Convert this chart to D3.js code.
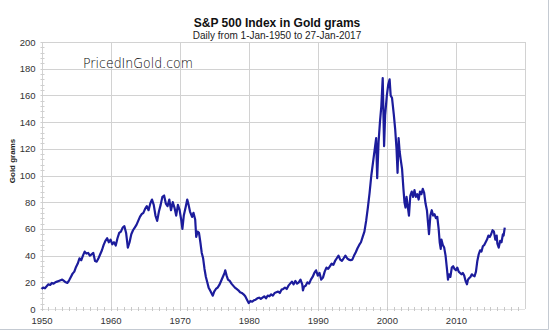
<!DOCTYPE html>
<html>
<head>
<meta charset="utf-8">
<script src="https://cdn.jsdelivr.net/npm/d3@7"></script>
<style>
  html, body { margin: 0; padding: 0; background: #fff; }
  svg { display: block; }
</style>
</head>
<body>
<svg id="chart" width="550" height="336"></svg>
<script>
// ---- data ----
const dates = [
  1950.0,1950.25,1950.5,1950.75,1951.0,1951.25,1951.5,1951.75,1952.0,1952.25,1952.5,1952.75,
  1953.0,1953.25,1953.5,1953.75,1954.0,1954.25,1954.5,1954.75,1955.0,1955.25,1955.5,1955.75,
  1956.0,1956.25,1956.5,1956.75,1957.0,1957.25,1957.5,1957.75,1958.0,1958.25,1958.5,1958.75,
  1959.0,1959.25,1959.5,1959.75,1960.0,1960.25,1960.5,1960.75,1961.0,1961.25,1961.5,1961.75,
  1962.0,1962.25,1962.5,1962.75,1963.0,1963.25,1963.5,1963.75,1964.0,1964.25,1964.5,1964.75,
  1965.0,1965.25,1965.5,1965.75,1966.0,1966.25,1966.5,1966.75,1967.0,1967.25,1967.5,1967.75,
  1968.0,1968.25,1968.5,1968.75,1969.0,1969.25,1969.5,1969.75,1970.0,1970.25,1970.4,1970.6,
  1970.9,1971.1,1971.3,1971.5,1971.8,1972.0,1972.25,1972.4,1972.6,1972.8,1973.0,1973.2,
  1973.4,1973.6,1973.8,1974.0,1974.2,1974.4,1974.6,1974.8,1975.0,1975.25,1975.5,1975.75,
  1976.0,1976.25,1976.5,1976.6,1976.8,1977.0,1977.25,1977.5,1977.75,1978.0,1978.25,1978.5,
  1978.75,1979.0,1979.25,1979.5,1979.75,1980.0,1980.25,1980.5,1980.75,1981.0,1981.25,1981.5,
  1981.75,1982.0,1982.25,1982.5,1982.75,1983.0,1983.25,1983.5,1983.75,1984.0,1984.25,1984.5,
  1984.75,1985.0,1985.25,1985.5,1985.75,1986.0,1986.25,1986.5,1986.75,1987.0,1987.25,1987.5,
  1987.75,1987.85,1988.0,1988.25,1988.5,1988.75,1989.0,1989.25,1989.5,1989.75,1990.0,1990.25,
  1990.5,1990.75,1991.0,1991.25,1991.5,1991.75,1992.0,1992.25,1992.5,1992.75,1993.0,1993.25,
  1993.5,1993.75,1994.0,1994.25,1994.5,1994.75,1995.0,1995.25,1995.5,1995.75,1996.0,1996.25,
  1996.5,1996.75,1997.0,1997.25,1997.5,1997.75,1998.0,1998.25,1998.45,1998.6,1998.8,1999.0,
  1999.2,1999.4,1999.5,1999.6,1999.75,2000.0,2000.2,2000.4,2000.55,2000.75,2001.0,2001.2,
  2001.4,2001.55,2001.7,2001.85,2002.0,2002.2,2002.4,2002.55,2002.7,2002.85,2003.0,2003.2,
  2003.4,2003.6,2003.8,2004.0,2004.2,2004.4,2004.6,2004.8,2005.0,2005.2,2005.4,2005.6,
  2005.8,2006.0,2006.1,2006.3,2006.5,2006.7,2006.9,2007.1,2007.3,2007.5,2007.65,2007.8,
  2007.9,2008.1,2008.3,2008.5,2008.7,2008.85,2009.0,2009.2,2009.4,2009.6,2009.8,2010.0,
  2010.2,2010.4,2010.6,2010.8,2011.0,2011.2,2011.4,2011.6,2011.75,2011.9,2012.1,2012.3,
  2012.5,2012.7,2012.9,2013.1,2013.3,2013.5,2013.7,2013.9,2014.1,2014.3,2014.5,2014.7,
  2014.9,2015.1,2015.3,2015.5,2015.7,2015.9,2016.0,2016.2,2016.4,2016.6,2016.8,2016.9,
  2017.07
];
const goldGrams = [
  15,16,15.5,17,18.5,18,19.5,19,20,20.5,21,21.5,
  22,21,20,19.5,21.5,24,26.5,28,31.5,34,38,36.5,
  40,43,41.5,42,40,41,42,36,35.5,38,41,44,
  48,51,53,50,52,48.5,50,47.5,53,57,58,61,
  62,57,46,50,56,59,61,63,66,69,71,72,
  75,77,74,79,82,78,70,66,73,78,84,85,
  79,77,82,74,80,76,70,78,74,66,60,70,
  77,82,78,73,69,72,67,54,58,57,50,42,
  38,30,24,20,16,14,12,10,13,15,16,18,
  21,24,27,29,25,22,21,19,17.5,16,15,14,
  12.5,12,11,9.5,7,4.5,6,5.5,6.5,7,8,8.5,
  7.5,8.5,9.5,8,10,9.5,11,10,12,12.5,13,12,
  14.5,15,16,15,17.5,19,20.5,18.5,21,19,20,22,
  18.5,14,16.5,17.5,20,19,22,24,27,29,25,27,
  22,23.5,28,31,30,32,34,33,36,38,40,37,
  36,38,40,38,37,36.5,37,40,42.5,45.5,48,50,
  54,58,66,76,87,100,110,120,128,98,125,140,
  152,173,148,122,145,160,168,172,160,158,146,135,
  120,102,128,118,112,105,90,80,76,84,78,70,
  85,88,84,89,84,86,82,88,86,90,87,79,
  74,62,56,70,74,70,71,68,69,60,50,45,
  52,48,46,40,30,22,26,24,31,32,30,29,
  31,28,27,26,27,25,21,18.5,22,23,24,26,
  25,24.5,28,36,41,44,43,47,48,50,52,55,
  54,56,59,58,52,55,49,46,51,50,56,55,
  61
];
const xTicks = [1950, 1960, 1970, 1980, 1990, 2000, 2010];
const yTicks = [0, 20, 40, 60, 80, 100, 120, 140, 160, 180, 200];
const titleText = "S&P 500 Index in Gold grams";
const subtitleText = "Daily from 1-Jan-1950 to 27-Jan-2017";
const yAxisTitle = "Gold grams";
const watermark = "PricedInGold.com";

// ---- drawing ----
(function () {
const svg = d3.select("#chart");
const pLeft = 41.5, pRight = 525, pTop = 42, pBottom = 309;

const x = d3.scaleLinear().domain([1950, 2020]).range([pLeft, pRight]);
const y = d3.scaleLinear().domain([0, 200]).range([pBottom, pTop]);

// outer frame (right and bottom edges)
svg.append("line").attr("x1", 548.5).attr("x2", 548.5).attr("y1", 0).attr("y2", 329.5)
  .attr("stroke", "#c4cad2").attr("stroke-width", 1);
svg.append("line").attr("x1", 0).attr("x2", 548.5).attr("y1", 329.5).attr("y2", 329.5)
  .attr("stroke", "#c4cad2").attr("stroke-width", 1);

// horizontal gridlines
svg.append("g").selectAll("line").data(yTicks.filter(d => d > 0)).join("line")
  .attr("x1", pLeft).attr("x2", pRight)
  .attr("y1", d => Math.round(y(d)) + 0.5).attr("y2", d => Math.round(y(d)) + 0.5)
  .attr("stroke", "#d2d2d2").attr("stroke-width", 1);

// vertical gridlines
svg.append("g").selectAll("line").data(xTicks.concat([2020])).join("line")
  .attr("x1", d => Math.round(x(d)) + 0.5).attr("x2", d => Math.round(x(d)) + 0.5)
  .attr("y1", pTop).attr("y2", pBottom)
  .attr("stroke", "#d2d2d2").attr("stroke-width", 1);

// baseline
svg.append("line").attr("x1", pLeft).attr("x2", pRight)
  .attr("y1", Math.round(y(0)) + 0.5).attr("y2", Math.round(y(0)) + 0.5)
  .attr("stroke", "#e2e2e2");

// y axis minor ticks
const yMinor = d3.range(0, 201, 4);
svg.append("g").selectAll("line").data(yMinor).join("line")
  .attr("x1", pLeft - 1).attr("x2", pLeft + 3)
  .attr("y1", d => Math.round(y(d)) + 0.5).attr("y2", d => Math.round(y(d)) + 0.5)
  .attr("stroke", "#cfcfcf");

// x axis minor ticks (every year)
const xMinor = d3.range(1950, 2020, 1);
svg.append("g").selectAll("line").data(xMinor).join("line")
  .attr("x1", d => Math.round(x(d)) + 0.5).attr("x2", d => Math.round(x(d)) + 0.5)
  .attr("y1", pBottom - 2).attr("y2", pBottom + 2)
  .attr("stroke", "#c8c8c8");

// axes labels using d3 axes
const yAxis = d3.axisLeft(y).tickValues(yTicks).tickSize(0).tickPadding(6);
const gy = svg.append("g").attr("transform", `translate(${pLeft},0)`).call(yAxis);
gy.select(".domain").remove();
gy.selectAll("text").attr("font-family", "Liberation Sans, Arial, sans-serif")
  .attr("font-size", 9.5).attr("fill", "#333");

const xAxis = d3.axisBottom(x).tickValues(xTicks).tickFormat(d3.format("d")).tickSize(0).tickPadding(8);
const gx = svg.append("g").attr("transform", `translate(0,${pBottom})`).call(xAxis);
gx.select(".domain").remove();
gx.selectAll("text").attr("font-family", "Liberation Sans, Arial, sans-serif")
  .attr("font-size", 9.5).attr("fill", "#333");

// data line
const data = dates.map((d, i) => ({ t: d, v: goldGrams[i] }));
const line = d3.line().x(d => x(d.t)).y(d => y(d.v));
svg.append("path").datum(data).attr("d", line)
  .attr("fill", "none").attr("stroke", "#1c1c9c").attr("stroke-width", 2.2)
  .attr("stroke-linejoin", "round");

// watermark
svg.append("text").attr("x", 83).attr("y", 68)
  .attr("font-family", "DejaVu Sans, sans-serif").attr("font-weight", 300)
  .attr("font-size", 14.5).attr("fill", "#000")
  .attr("textLength", 110).attr("lengthAdjust", "spacingAndGlyphs")
  .text(watermark);

// titles
svg.append("text").attr("x", 277).attr("y", 27).attr("text-anchor", "middle")
  .attr("font-family", "Liberation Sans, Arial, sans-serif").attr("font-weight", "bold")
  .attr("font-size", 12).attr("fill", "#111").text(titleText);
svg.append("text").attr("x", 277).attr("y", 39).attr("text-anchor", "middle")
  .attr("font-family", "Liberation Sans, Arial, sans-serif")
  .attr("font-size", 10).attr("fill", "#222").text(subtitleText);

svg.append("text").attr("transform", "translate(15,161) rotate(-90)")
  .attr("text-anchor", "middle")
  .attr("font-family", "Liberation Sans, Arial, sans-serif").attr("font-weight", "bold")
  .attr("font-size", 8).attr("fill", "#222").text(yAxisTitle);
})();
</script>
</body>
</html>
